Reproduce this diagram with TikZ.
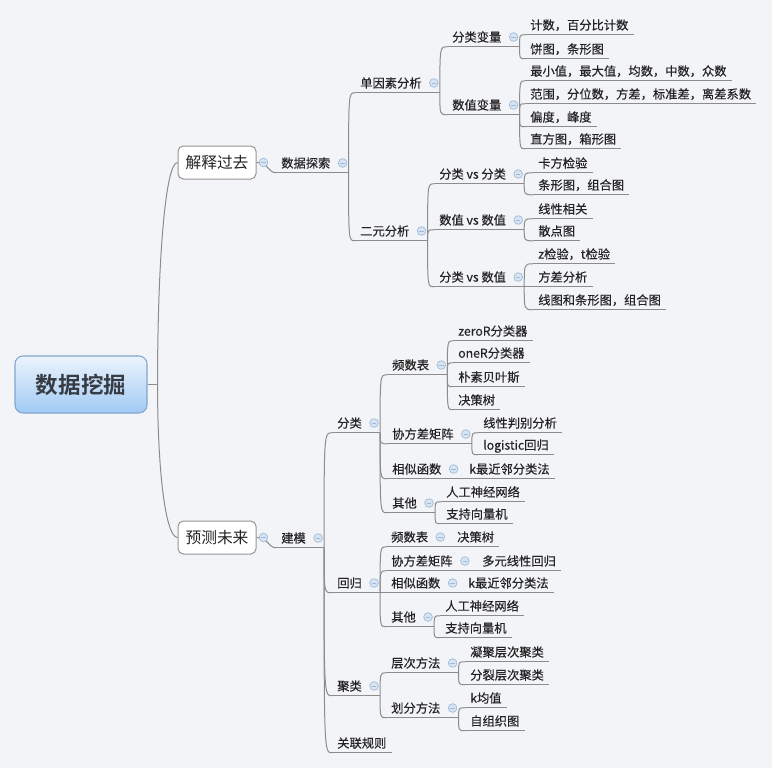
\documentclass[tikz,border=0pt]{standalone}
\usepackage{fontspec}
\setmainfont{Noto Sans CJK SC}[FakeBold=0.25]
\newfontfamily\rootfont{Noto Sans CJK SC Bold}
\newfontfamily\boxfont{Noto Sans CJK SC}
\usetikzlibrary{calc}
\definecolor{bg}{RGB}{242,244,247}
\definecolor{lnc}{RGB}{140,140,140}
\definecolor{txt}{RGB}{35,35,35}
\definecolor{icf}{RGB}{214,228,243}
\definecolor{icd}{RGB}{160,185,212}
\definecolor{rtop}{RGB}{236,244,253}
\definecolor{rbot}{RGB}{160,202,244}
\definecolor{rbd}{RGB}{130,165,205}
\definecolor{rtx}{RGB}{55,60,68}
\definecolor{bxd}{RGB}{150,150,150}
\tikzset{
 tn/.style={anchor=west, inner xsep=3.75pt, inner ysep=0pt, minimum height=14.25pt,
   text height=8.1pt, text depth=1.1pt, text=txt, font=\fontsize{9.2pt}{11pt}\selectfont},
 ln/.style={draw=lnc, line width=0.75pt},
 icon/.style={circle, minimum size=6.5pt, inner sep=0pt, fill=icf, draw=icd, line width=0.5pt},
 icm/.style={draw=icd, line width=0.6pt},
 rootbox/.style={rounded corners=6pt, draw=rbd, line width=0.8pt, top color=rtop, bottom color=rbot,
   minimum width=99pt, minimum height=42.75pt, font=\fontsize{16.9pt}{20pt}\selectfont\rootfont, text=rtx},
 bx/.style={rounded corners=4pt, draw=bxd, fill=white, line width=0.75pt, minimum width=58.5pt,
   minimum height=24.75pt, font=\fontsize{11.8pt}{14pt}\selectfont\boxfont, text=txt}
}
\newcommand\T[4]{\node[tn] (#1) at (#2-5,#3) {#4};}
\newcommand\UL[1]{\draw[ln] (#1.south west) -- (#1.south east);}
\newcommand\PJ[1]{\coordinate (#1j) at ($(#1.south east)+(13,0)$);\draw[ln] (#1.south west) -- (#1j);}
\newcommand\CN[2]{\draw[ln] (#1j) .. controls (#1j |- #2.south west) .. (#2.south west);}
\newcommand\IC[1]{\node[icon] (#1i) at ($(#1.east)+(7,0)$) {};\draw[icm] ($(#1i.center)+(-2.2,0)$) -- ($(#1i.center)+(2.2,0)$);}
\begin{document}
\begin{tikzpicture}[x=0.75pt,y=-0.75pt]
\fill[bg] (0,0) rectangle (772,768);
\useasboundingbox (0,0) rectangle (772,768);
% main nodes
\node[rootbox] (root) at (81,384.5) {数据挖掘};
\node[bx] (e1) at (217,162.5) {解释过去};
\node[bx] (e2) at (217,537.5) {预测未来};
% upper subtree
\T{d1}{281}{163}{数据探索}
\T{s1}{360}{83}{单因素分析}
\T{s2}{360}{231}{二元分析}
\T{v1}{452}{37}{分类变量}
\T{v2}{452}{105}{数值变量}
\T{l1}{530}{25}{计数，百分比计数}
\T{l2}{530}{49}{饼图，条形图}
\T{l3}{530}{71}{最小值，最大值，均数，中数，众数}
\T{l4}{530}{94}{范围，分位数，方差，标准差，离差系数}
\T{l5}{530}{117}{偏度，峰度}
\T{l6}{530}{139}{直方图，箱形图}
\T{b1}{439}{174}{分类 vs 分类}
\T{b2}{439}{220}{数值 vs 数值}
\T{b3}{439}{277}{分类 vs 数值}
\T{m1}{538}{163}{卡方检验}
\T{m2}{538}{185}{条形图，组合图}
\T{m3}{538}{209}{线性相关}
\T{m4}{538}{231}{散点图}
\T{m5}{538}{254}{z检验，t检验}
\T{m6}{538}{277}{方差分析}
\T{m7}{538}{300}{线图和条形图，组合图}
% lower subtree
\T{p1}{281}{538}{建模}
\T{c1}{337}{423}{分类}
\T{c2}{337}{583}{回归}
\T{c3}{337}{686}{聚类}
\T{c4}{337}{743}{关联规则}
\T{f1}{392}{365}{频数表}
\T{f2}{392}{434}{协方差矩阵}
\T{f3}{392}{469}{相似函数}
\T{f4}{392}{503}{其他}
\T{g1}{458}{331}{zeroR分类器}
\T{g2}{458}{353}{oneR分类器}
\T{g3}{458}{377}{朴素贝叶斯}
\T{g4}{458}{400}{决策树}
\T{g5}{483}{423}{线性判别分析}
\T{g6}{483}{445}{logistic回归}
\T{g7}{469}{469}{k最近邻分类法}
\T{g8}{446}{492}{人工神经网络}
\T{g9}{446}{514}{支持向量机}
\T{r1}{391}{537}{频数表}
\T{r2}{391}{561}{协方差矩阵}
\T{r3}{391}{583}{相似函数}
\T{r4}{391}{617}{其他}
\T{h1}{457}{537}{决策树}
\T{h2}{482}{561}{多元线性回归}
\T{h3}{468}{583}{k最近邻分类法}
\T{h4}{445}{606}{人工神经网络}
\T{h5}{445}{628}{支持向量机}
\T{k1}{391}{663}{层次方法}
\T{k2}{391}{708}{划分方法}
\T{q1}{470}{652}{凝聚层次聚类}
\T{q2}{470}{675}{分裂层次聚类}
\T{q3}{470}{698}{k均值}
\T{q4}{470}{721}{自组织图}
% root connectors
\coordinate (rj) at ($(root.east)+(10,0)$);
\draw[ln] (root.east) -- (rj);
\draw[ln] (rj) .. controls ($(rj)!0.56!(rj |- e1.west)$) and ($(e1.west)+(-12,0)$) .. (e1.west);
\draw[ln] (rj) .. controls ($(rj)!0.56!(rj |- e2.west)$) and ($(e2.west)+(-12,0)$) .. (e2.west);
\draw[ln] (e1.east) .. controls +(12,0) and +(-8,0) .. (d1.south west);
\draw[ln] (e2.east) .. controls +(12,0) and +(-8,0) .. (p1.south west);
% parent underlines
\PJ{d1}\PJ{s1}\PJ{s2}\PJ{v1}\PJ{v2}\PJ{b1}\PJ{b2}\PJ{b3}
\PJ{p1}\PJ{c1}\PJ{c2}\PJ{c3}\PJ{f1}\PJ{f2}\PJ{f3}\PJ{f4}
\PJ{r1}\PJ{r2}\PJ{r3}\PJ{r4}\PJ{k1}\PJ{k2}
% leaf underlines
\UL{l1}\UL{l2}\UL{l3}\UL{l4}\UL{l5}\UL{l6}
\UL{m1}\UL{m2}\UL{m3}\UL{m4}\UL{m5}\UL{m6}\UL{m7}
\UL{c4}\UL{g1}\UL{g2}\UL{g3}\UL{g4}\UL{g5}\UL{g6}\UL{g7}\UL{g8}\UL{g9}
\UL{h1}\UL{h2}\UL{h3}\UL{h4}\UL{h5}\UL{q1}\UL{q2}\UL{q3}\UL{q4}
% connectors
\CN{d1}{s1}\CN{d1}{s2}
\CN{s1}{v1}\CN{s1}{v2}
\CN{v1}{l1}\CN{v1}{l2}
\CN{v2}{l3}\CN{v2}{l4}\CN{v2}{l5}\CN{v2}{l6}
\CN{s2}{b1}\CN{s2}{b2}\CN{s2}{b3}
\CN{b1}{m1}\CN{b1}{m2}
\CN{b2}{m3}\CN{b2}{m4}
\CN{b3}{m5}\CN{b3}{m6}\CN{b3}{m7}
\CN{p1}{c1}\CN{p1}{c2}\CN{p1}{c3}\CN{p1}{c4}
\CN{c1}{f1}\CN{c1}{f2}\CN{c1}{f3}\CN{c1}{f4}
\CN{f1}{g1}\CN{f1}{g2}\CN{f1}{g3}\CN{f1}{g4}
\CN{f2}{g5}\CN{f2}{g6}
\CN{f3}{g7}
\CN{f4}{g8}\CN{f4}{g9}
\CN{c2}{r1}\CN{c2}{r2}\CN{c2}{r3}\CN{c2}{r4}
\CN{r1}{h1}\CN{r2}{h2}\CN{r3}{h3}
\CN{r4}{h4}\CN{r4}{h5}
\CN{c3}{k1}\CN{c3}{k2}
\CN{k1}{q1}\CN{k1}{q2}
\CN{k2}{q3}\CN{k2}{q4}
% collapse icons
\IC{e1}\IC{e2}\IC{d1}\IC{s1}\IC{s2}\IC{v1}\IC{v2}\IC{b1}\IC{b2}\IC{b3}
\IC{p1}\IC{c1}\IC{c2}\IC{c3}\IC{f1}\IC{f2}\IC{f3}\IC{f4}
\IC{r1}\IC{r2}\IC{r3}\IC{r4}\IC{k1}\IC{k2}
\end{tikzpicture}
\end{document}
